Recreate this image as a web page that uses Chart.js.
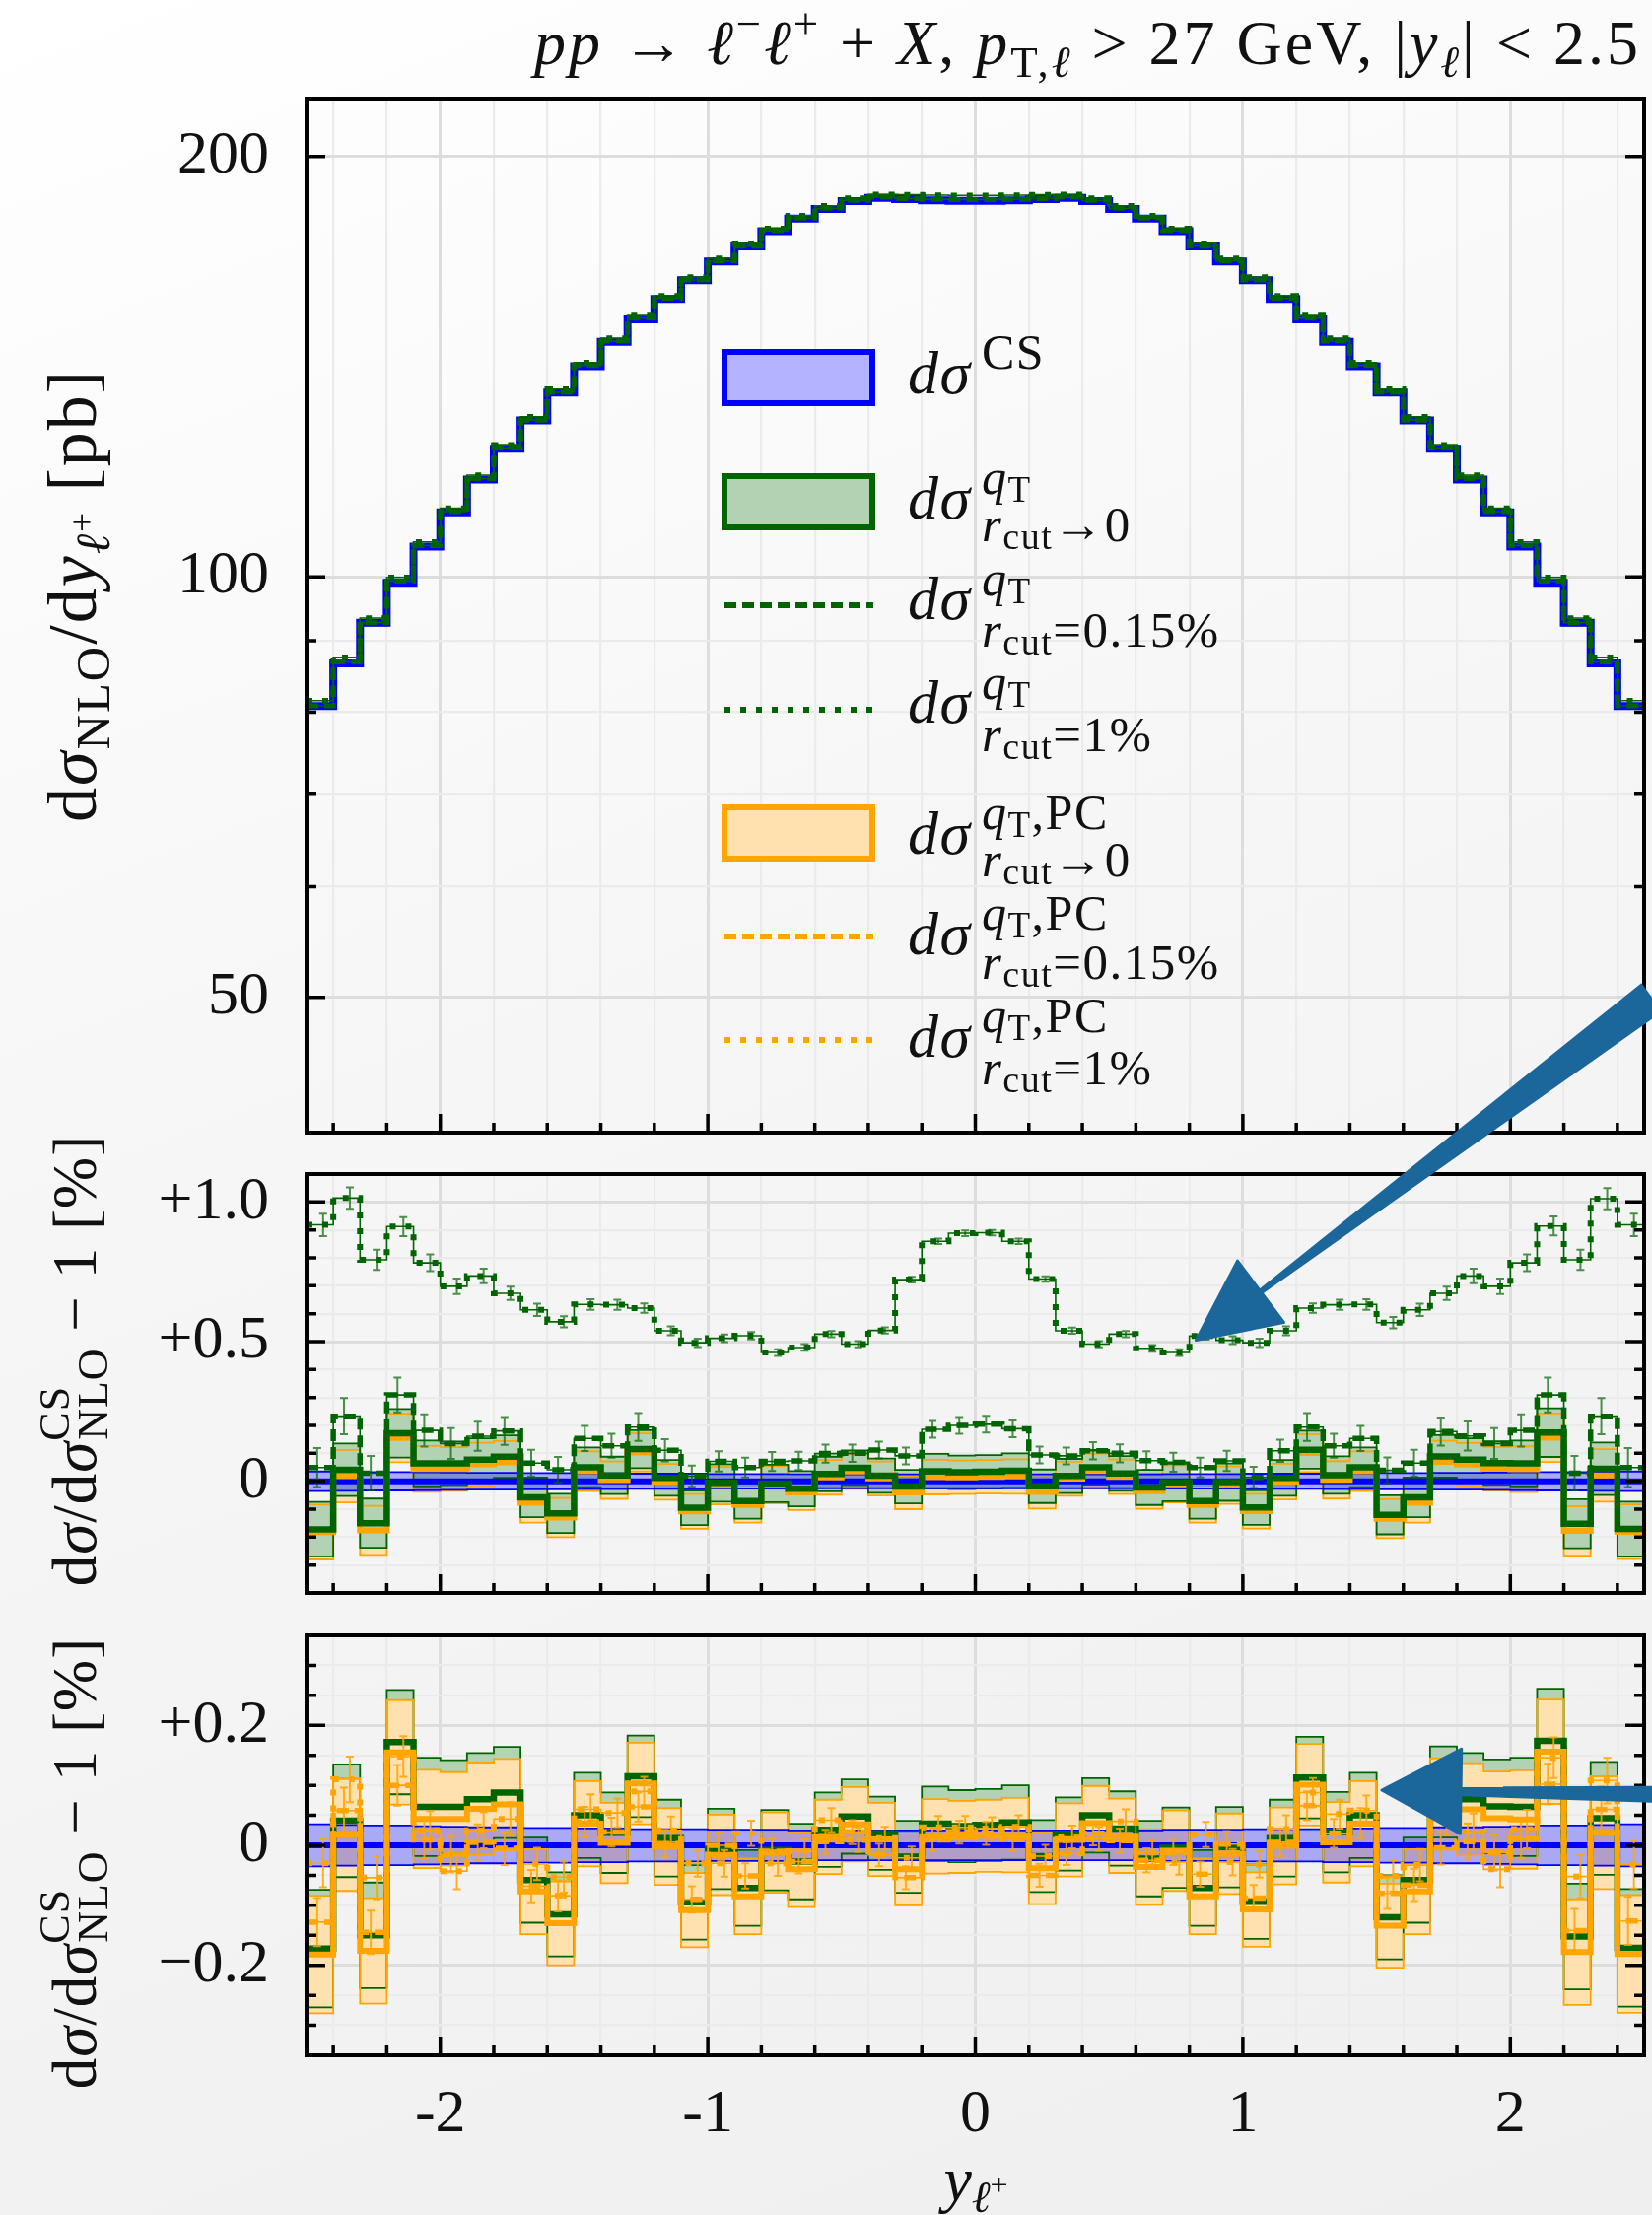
<!DOCTYPE html>
<html>
<head>
<meta charset="utf-8">
<title>Drell-Yan lepton rapidity at NLO</title>
<script src="https://cdn.jsdelivr.net/npm/chart.js@4.4.1/dist/chart.umd.min.js"></script>
<style>
  html, body { margin: 0; padding: 0; }
  body {
    width: 1676px; height: 2247px; position: relative; overflow: hidden;
    background: linear-gradient(160deg, #ffffff 0%, #f6f6f6 45%, #efefef 100%);
  }
  canvas.panel { position: absolute; left: 0; }
  #overlay { position: absolute; left: 0; top: 0; pointer-events: none; }
  #overlay text { font-family: 'Liberation Serif', 'DejaVu Serif', serif; fill: #111; white-space: pre; }
</style>
</head>
<body>
<canvas id="mainPanel" class="panel" width="1676" height="1160" style="top:0px"></canvas>
<canvas id="ratioPanel" class="panel" width="1676" height="470" style="top:1170px"></canvas>
<canvas id="pcPanel" class="panel" width="1676" height="607" style="top:1640px"></canvas>

<svg id="overlay" width="1676" height="2247" xmlns="http://www.w3.org/2000/svg">
  <g id="legendMarks"></g>
  <g id="arrows"></g>

  <!-- title -->
  <text x="1665" y="65" text-anchor="end" font-size="64" letter-spacing="3"><tspan font-style="italic">pp</tspan> → <tspan font-style="italic">ℓ</tspan><tspan font-size="45" dy="-26">−</tspan><tspan font-style="italic" dy="26">ℓ</tspan><tspan font-size="45" dy="-26">+</tspan><tspan dy="26"> + </tspan><tspan font-style="italic">X</tspan>, <tspan font-style="italic">p</tspan><tspan font-size="45" dy="13">T,</tspan><tspan font-size="45" font-style="italic">ℓ</tspan><tspan dy="-13"> &gt; 27 GeV, |</tspan><tspan font-style="italic">y</tspan><tspan font-size="45" font-style="italic" dy="13">ℓ</tspan><tspan dy="-13">| &lt; 2.5</tspan></text>

  <!-- y axis titles -->
  <text transform="translate(97,604) rotate(-90)" text-anchor="middle" font-size="70" letter-spacing="2">d<tspan font-style="italic">σ</tspan><tspan font-size="49" dy="14">NLO</tspan><tspan dy="-14">/d</tspan><tspan font-style="italic">y</tspan><tspan font-size="49" font-style="italic" dy="14">ℓ</tspan><tspan font-size="35" dy="-16">+</tspan><tspan dy="2"> [pb]</tspan></text>
  <text transform="translate(97,1380) rotate(-90)" text-anchor="middle" font-size="63" letter-spacing="1">d<tspan font-style="italic">σ</tspan>/d<tspan font-style="italic">σ</tspan><tspan font-size="44" dy="-27">CS</tspan><tspan font-size="44" dx="-55" dy="39">NLO</tspan><tspan dy="-12"> − 1 [%]</tspan></text>
  <text transform="translate(97,1890) rotate(-90)" text-anchor="middle" font-size="63" letter-spacing="1">d<tspan font-style="italic">σ</tspan>/d<tspan font-style="italic">σ</tspan><tspan font-size="44" dy="-27">CS</tspan><tspan font-size="44" dx="-55" dy="39">NLO</tspan><tspan dy="-12"> − 1 [%]</tspan></text>

  <!-- x axis title -->
  <text x="990" y="2232" text-anchor="middle" font-size="64"><tspan font-style="italic">y</tspan><tspan font-size="45" font-style="italic" dy="12">ℓ</tspan><tspan font-size="32" dy="-17">+</tspan></text>

  <!-- legend labels -->
  <text font-size="62" letter-spacing="1.5"><tspan x="921" y="399" font-style="italic">dσ</tspan><tspan x="996" y="374" font-size="50">CS</tspan></text>
  <text font-size="62" letter-spacing="1.5"><tspan x="921" y="526" font-style="italic">dσ</tspan><tspan x="996" y="501" font-size="50" font-style="italic">q</tspan><tspan y="509" font-size="37">T</tspan><tspan x="996" y="549" font-size="51" font-style="italic">r</tspan><tspan y="557" font-size="38">cut</tspan><tspan y="549" font-size="51">→0</tspan></text>
  <text font-size="62" letter-spacing="1.5"><tspan x="921" y="628" font-style="italic">dσ</tspan><tspan x="996" y="604" font-size="50" font-style="italic">q</tspan><tspan y="612" font-size="37">T</tspan><tspan x="996" y="656" font-size="51" font-style="italic">r</tspan><tspan y="664" font-size="38">cut</tspan><tspan y="656" font-size="51">=0.15%</tspan></text>
  <text font-size="62" letter-spacing="1.5"><tspan x="921" y="733" font-style="italic">dσ</tspan><tspan x="996" y="709" font-size="50" font-style="italic">q</tspan><tspan y="717" font-size="37">T</tspan><tspan x="996" y="762" font-size="51" font-style="italic">r</tspan><tspan y="770" font-size="38">cut</tspan><tspan y="762" font-size="51">=1%</tspan></text>
  <text font-size="62" letter-spacing="1.5"><tspan x="921" y="866" font-style="italic">dσ</tspan><tspan x="996" y="841" font-size="50" font-style="italic">q</tspan><tspan y="849" font-size="37">T</tspan><tspan y="841" font-size="50">,PC</tspan><tspan x="996" y="889" font-size="51" font-style="italic">r</tspan><tspan y="897" font-size="38">cut</tspan><tspan y="889" font-size="51">→0</tspan></text>
  <text font-size="62" letter-spacing="1.5"><tspan x="921" y="968" font-style="italic">dσ</tspan><tspan x="996" y="943" font-size="50" font-style="italic">q</tspan><tspan y="951" font-size="37">T</tspan><tspan y="943" font-size="50">,PC</tspan><tspan x="996" y="993" font-size="51" font-style="italic">r</tspan><tspan y="1001" font-size="38">cut</tspan><tspan y="993" font-size="51">=0.15%</tspan></text>
  <text font-size="62" letter-spacing="1.5"><tspan x="921" y="1072" font-style="italic">dσ</tspan><tspan x="996" y="1047" font-size="50" font-style="italic">q</tspan><tspan y="1055" font-size="37">T</tspan><tspan y="1047" font-size="50">,PC</tspan><tspan x="996" y="1100" font-size="51" font-style="italic">r</tspan><tspan y="1108" font-size="38">cut</tspan><tspan y="1100" font-size="51">=1%</tspan></text>
</svg>

<script>
// ---- binning and axis ticks --------------------------------------------
const binEdges = [-2.5, -2.4, -2.3, -2.2, -2.1, -2.0, -1.9, -1.8, -1.7, -1.6, -1.5, -1.4, -1.3, -1.2, -1.1,
  -1.0, -0.9, -0.8, -0.7, -0.6, -0.5, -0.4, -0.3, -0.2, -0.1, 0, 0.1, 0.2, 0.3, 0.4, 0.5, 0.6, 0.7, 0.8,
  0.9, 1.0, 1.1, 1.2, 1.3, 1.4, 1.5, 1.6, 1.7, 1.8, 1.9, 2.0, 2.1, 2.2, 2.3, 2.4, 2.5];

const xTickValues = [-2.4, -2.2, -2.0, -1.8, -1.6, -1.4, -1.2, -1.0, -0.8, -0.6, -0.4, -0.2, 0,
  0.2, 0.4, 0.6, 0.8, 1.0, 1.2, 1.4, 1.6, 1.8, 2.0, 2.2, 2.4];
const xLabelValues = [-2, -1, 0, 1, 2];
const xLabelText = ['-2', '-1', '0', '1', '2'];

const mainTickValues = [40, 50, 60, 70, 80, 90, 100, 200];
const mainLabelValues = [50, 100, 200];
const mainLabelText = ['50', '100', '200'];

const ratioTickValues = [-0.4, -0.3, -0.2, -0.1, 0, 0.1, 0.2, 0.3, 0.4, 0.5, 0.6, 0.7, 0.8, 0.9, 1.0, 1.1];
const ratioLabelValues = [0, 0.5, 1.0];
const ratioLabelText = ['0', '+0.5', '+1.0'];

const pcTickValues = [-0.35, -0.3, -0.25, -0.2, -0.15, -0.1, -0.05, 0, 0.05, 0.1, 0.15, 0.2, 0.25, 0.3, 0.35];
const pcLabelValues = [-0.2, 0, 0.2];
const pcLabelText = ['\u22120.2', '0', '+0.2'];

// ---- NLO cross section per bin (pb) -------------------------------------
const csNLO = [80.8, 86.7, 92.7, 99.0, 105.1, 111.2, 117.4, 123.5, 129.4, 135.5, 141.5, 147.3, 152.9,
  158.1, 163.1, 168.2, 172.4, 176.8, 180.5, 183.4, 185.8, 186.8, 186.4, 186.0, 185.9,
  185.9, 186.0, 186.4, 186.8, 185.8, 183.4, 180.5, 176.8, 172.4, 168.2, 163.1, 158.1, 152.9, 147.3,
  141.5, 135.5, 129.4, 123.5, 117.4, 111.2, 105.1, 99.0, 92.7, 86.7, 80.8];
// numerical uncertainty of the CS result, in %
const csErr = [0.035, 0.034, 0.033, 0.033, 0.032, 0.031, 0.030, 0.030, 0.029, 0.029, 0.028, 0.028, 0.027,
  0.027, 0.027, 0.026, 0.026, 0.026, 0.025, 0.025, 0.025, 0.025, 0.025, 0.025, 0.025,
  0.025, 0.025, 0.025, 0.025, 0.025, 0.025, 0.025, 0.026, 0.026, 0.026, 0.027, 0.027, 0.027, 0.028,
  0.028, 0.029, 0.029, 0.030, 0.030, 0.031, 0.032, 0.033, 0.033, 0.034, 0.035];

// ---- deviations from CS, in % ----------------------------------------------
const qtExtrap = [-0.172, 0.041, -0.150, 0.172, 0.064, 0.064, 0.077, 0.088, -0.058, -0.115, 0.050, 0.021, 0.115,
  0.012, -0.095, -0.006, -0.071, -0.008, -0.027, 0.026, 0.048, 0.020, -0.019, 0.036, 0.032,
  0.034, 0.038, -0.018, 0.019, 0.050, 0.028, -0.022, -0.004, -0.071, -0.003, -0.094, 0.012, 0.113, 0.022,
  0.050, -0.120, -0.058, 0.089, 0.077, 0.065, 0.064, 0.174, -0.152, 0.045, -0.171];
const pcExtrap = [-0.182, 0.018, -0.176, 0.155, 0.044, 0.044, 0.061, 0.068, -0.077, -0.130, 0.036, 0.004, 0.103,
  -0.002, -0.108, -0.016, -0.085, -0.012, -0.040, 0.014, 0.035, 0.010, -0.040, 0.015, 0.014,
  0.016, 0.017, -0.038, 0.009, 0.037, 0.016, -0.036, -0.009, -0.085, -0.014, -0.107, -0.001, 0.101, 0.005,
  0.036, -0.134, -0.077, 0.069, 0.060, 0.045, 0.043, 0.156, -0.178, 0.021, -0.181];
// uncertainty of the r_cut -> 0 extrapolation, in %
const extrapErr = [0.098, 0.094, 0.088, 0.087, 0.082, 0.078, 0.077, 0.076, 0.071, 0.070, 0.071, 0.067, 0.068,
  0.064, 0.062, 0.067, 0.063, 0.067, 0.063, 0.062, 0.062, 0.061, 0.060, 0.062, 0.060,
  0.060, 0.062, 0.060, 0.061, 0.062, 0.062, 0.063, 0.067, 0.063, 0.067, 0.062, 0.064, 0.068, 0.067,
  0.071, 0.070, 0.071, 0.076, 0.077, 0.078, 0.082, 0.087, 0.088, 0.094, 0.098];

const qtCut015 = [0.049, 0.233, 0.029, 0.309, 0.182, 0.135, 0.161, 0.180, 0.065, 0.041, 0.153, 0.127, 0.194,
  0.111, 0.018, 0.071, 0.049, 0.071, 0.073, 0.099, 0.100, 0.112, 0.091, 0.186, 0.200,
  0.204, 0.188, 0.094, 0.091, 0.109, 0.100, 0.074, 0.068, 0.049, 0.073, 0.014, 0.109, 0.194, 0.127,
  0.153, 0.039, 0.065, 0.178, 0.162, 0.135, 0.182, 0.309, 0.029, 0.233, 0.049];
const qtCut015Err = [0.070, 0.065, 0.062, 0.062, 0.058, 0.055, 0.052, 0.050, 0.048, 0.046, 0.045, 0.043, 0.050,
  0.040, 0.038, 0.036, 0.035, 0.034, 0.033, 0.032, 0.031, 0.030, 0.030, 0.030, 0.030,
  0.030, 0.030, 0.030, 0.030, 0.031, 0.032, 0.033, 0.034, 0.035, 0.036, 0.038, 0.040, 0.050, 0.043,
  0.045, 0.046, 0.048, 0.050, 0.052, 0.055, 0.058, 0.062, 0.062, 0.065, 0.070];
const qtCut1 = [0.918, 1.014, 0.793, 0.912, 0.782, 0.698, 0.735, 0.673, 0.614, 0.571, 0.633, 0.632, 0.620,
  0.539, 0.496, 0.512, 0.521, 0.461, 0.479, 0.527, 0.491, 0.540, 0.722, 0.859, 0.888,
  0.890, 0.859, 0.724, 0.539, 0.491, 0.527, 0.476, 0.461, 0.520, 0.505, 0.496, 0.539, 0.620, 0.632,
  0.633, 0.568, 0.614, 0.673, 0.735, 0.698, 0.782, 0.914, 0.793, 1.012, 0.918];
const qtCut1Err = [0.040, 0.038, 0.036, 0.034, 0.030, 0.028, 0.026, 0.024, 0.022, 0.020, 0.019, 0.018, 0.017,
  0.016, 0.015, 0.014, 0.013, 0.012, 0.012, 0.011, 0.011, 0.011, 0.010, 0.010, 0.010,
  0.010, 0.010, 0.010, 0.011, 0.011, 0.011, 0.012, 0.012, 0.013, 0.014, 0.015, 0.016, 0.017, 0.018,
  0.019, 0.020, 0.022, 0.024, 0.026, 0.028, 0.030, 0.034, 0.036, 0.038, 0.040];

const pcCut015 = [-0.128, 0.058, -0.145, 0.100, 0.009, -0.015, 0.005, -0.005, -0.068, -0.084, 0.039, 0.022, 0.064,
  0.003, -0.090, 0.000, -0.051, -0.010, -0.027, 0.006, 0.022, -0.016, -0.054, 0.009, 0.022,
  0.020, 0.010, -0.050, -0.014, 0.020, 0.008, -0.025, -0.012, -0.048, 0.002, -0.088, 0.005, 0.066, 0.020,
  0.037, -0.080, -0.066, -0.004, 0.006, -0.012, 0.011, 0.102, -0.142, 0.060, -0.126];
const pcCut1 = [-0.030, 0.110, -0.054, 0.148, 0.025, -0.043, 0.025, 0.044, -0.031, -0.053, 0.060, 0.054, 0.090,
  0.025, -0.030, -0.030, 0.020, -0.030, -0.010, 0.042, 0.009, 0.012, -0.021, 0.030, 0.030,
  0.028, 0.031, -0.018, 0.014, 0.011, 0.040, -0.012, -0.028, 0.018, -0.028, -0.032, 0.027, 0.088, 0.052,
  0.058, -0.051, -0.033, 0.046, 0.023, -0.040, 0.027, 0.146, -0.052, 0.108, -0.032];
const pcCutErr = [0.040, 0.038, 0.036, 0.034, 0.032, 0.030, 0.030, 0.028, 0.027, 0.026, 0.025, 0.024, 0.024,
  0.023, 0.022, 0.022, 0.021, 0.021, 0.020, 0.020, 0.020, 0.019, 0.019, 0.019, 0.019,
  0.019, 0.019, 0.019, 0.019, 0.020, 0.020, 0.020, 0.021, 0.021, 0.022, 0.022, 0.023, 0.024, 0.024,
  0.025, 0.026, 0.027, 0.028, 0.030, 0.030, 0.032, 0.034, 0.036, 0.038, 0.040];

// ---- styling -------------------------------------------------------------
const FONT = "'Liberation Serif', 'DejaVu Serif', serif";
const C = {
  ink: '#111111',
  blue: '#0000ff', blueFill: 'rgba(0, 0, 255, 0.3)', blueBox: '#b3b3ff',
  green: '#006400', greenFill: '#b3d1b3', greenErr: 'rgba(0, 100, 0, 0.7)',
  orange: '#ffa500', orangeFill: '#ffe1b0', orangeErr: 'rgba(255, 165, 0, 0.85)',
  arrow: '#1b679b',
  gridMajor: '#dddddd', gridMinor: '#ebebeb'
};
const DASH = [12, 6];
const DOT = [6, 10];

const isIn = (v, list) => v != null && list.some(l => Math.abs(l - v) < 1e-9);
const binCenter = i => (binEdges[i] + binEdges[i + 1]) / 2;
const addArr = (a, b, s) => a.map((v, i) => v + s * b[i]);
const absolute = r => csNLO.map((v, i) => v * (1 + r[i] / 100));
const csSelf = csNLO.map(v => (v / v - 1) * 100);

// histogram outline: one point on each left edge, plus the closing right edge
function steps(vals) {
  const pts = vals.map((v, i) => ({ x: binEdges[i], y: v }));
  pts.push({ x: binEdges[vals.length], y: vals[vals.length - 1] });
  return pts;
}

function stepLine(vals, color, width, order, dash) {
  return {
    data: steps(vals), borderColor: color, borderWidth: width, borderDash: dash || [],
    borderCapStyle: 'butt', borderJoinStyle: 'miter', stepped: true,
    pointRadius: 0, fill: false, order: order
  };
}

// dashed/dotted histograms keep a hairline underneath so the outline stays readable
function patterned(vals, color, width, order, dash) {
  return [stepLine(vals, color, 1.6, order + 0.5), stepLine(vals, color, width, order, dash)];
}

// two datasets; the first one fills down to the second
function bandFill(lo, hi, color, order) {
  return [
    { data: steps(hi), borderColor: 'rgba(0,0,0,0)', borderWidth: 1, stepped: true, pointRadius: 0,
      fill: '+1', backgroundColor: color, order: order },
    { data: steps(lo), borderColor: 'rgba(0,0,0,0)', borderWidth: 1, stepped: true, pointRadius: 0,
      fill: false, order: order }
  ];
}

function bandEdges(lo, hi, color, order) {
  return [stepLine(hi, color, 1.8, order), stepLine(lo, color, 1.8, order)];
}

function withErrors(list, values, errors, shift, color) {
  list[list.length - 1].errorBars = { values: values, errors: errors, shift: shift, color: color };
  return list;
}

// ---- plugins ---------------------------------------------------------------
const errorBars = {
  id: 'errorBars',
  afterDatasetsDraw(chart) {
    const { ctx, chartArea: a, scales: { x, y } } = chart;
    ctx.save();
    ctx.beginPath();
    ctx.rect(a.left, a.top, a.right - a.left, a.bottom - a.top);
    ctx.clip();
    ctx.setLineDash([]);
    ctx.lineWidth = 2;
    chart.data.datasets.forEach(ds => {
      const eb = ds.errorBars;
      if (!eb) return;
      ctx.strokeStyle = eb.color;
      ctx.beginPath();
      eb.values.forEach((v, i) => {
        const px = x.getPixelForValue(binCenter(i) + eb.shift);
        const y0 = y.getPixelForValue(v - eb.errors[i]);
        const y1 = y.getPixelForValue(v + eb.errors[i]);
        ctx.moveTo(px, y0); ctx.lineTo(px, y1);
        ctx.moveTo(px - 4, y0); ctx.lineTo(px + 4, y0);
        ctx.moveTo(px - 4, y1); ctx.lineTo(px + 4, y1);
      });
      ctx.stroke();
    });
    ctx.restore();
  }
};

// frame plus inward tick marks (left/right for y, bottom for x)
const frameTicks = {
  id: 'frameTicks',
  afterDraw(chart, args, opts) {
    const { ctx, chartArea: a, scales: { x, y } } = chart;
    ctx.save();
    ctx.setLineDash([]);
    ctx.strokeStyle = '#000';
    ctx.lineWidth = 3.5;
    ctx.beginPath();
    y.ticks.forEach(t => {
      const py = y.getPixelForValue(t.value);
      if (py <= a.top + 1 || py >= a.bottom - 1) return;
      const len = isIn(t.value, opts.yMajor) ? 19 : 10;
      ctx.moveTo(a.left, py); ctx.lineTo(a.left + len, py);
      ctx.moveTo(a.right, py); ctx.lineTo(a.right - len, py);
    });
    x.ticks.forEach(t => {
      const px = x.getPixelForValue(t.value);
      const len = isIn(t.value, xLabelValues) ? 19 : 10;
      ctx.moveTo(px, a.bottom); ctx.lineTo(px, a.bottom - len);
    });
    ctx.stroke();
    ctx.lineWidth = 4;
    ctx.strokeRect(a.left, a.top, a.right - a.left, a.bottom - a.top);
    ctx.restore();
  }
};

// ---- scales ------------------------------------------------------------------
function xScale(showLabels) {
  return {
    type: 'linear', min: -2.5, max: 2.5,
    afterBuildTicks: s => { s.ticks = xTickValues.map(v => ({ value: v })); },
    afterFit: s => { s.height = showLabels ? 150 : 0; s.paddingLeft = 0; s.paddingRight = 0; },
    border: { display: false },
    grid: {
      drawTicks: false,
      color: c => isIn(c.tick && c.tick.value, xLabelValues) ? C.gridMajor : C.gridMinor,
      lineWidth: c => isIn(c.tick && c.tick.value, xLabelValues) ? 3 : 2.2
    },
    ticks: {
      display: showLabels, padding: 24, color: C.ink, maxRotation: 0, autoSkip: false,
      font: { family: FONT, size: 62 },
      callback: v => { const k = xLabelValues.findIndex(l => Math.abs(l - v) < 1e-9); return k < 0 ? '' : xLabelText[k]; }
    }
  };
}

function yScale(type, min, max, tickVals, labelVals, labelText) {
  return {
    type: type, min: min, max: max,
    afterBuildTicks: s => { s.ticks = tickVals.map(v => ({ value: v })); },
    afterFit: s => { s.width = 311; s.paddingTop = 0; s.paddingBottom = 0; },
    border: { display: false },
    grid: {
      drawTicks: false,
      color: c => isIn(c.tick && c.tick.value, labelVals) ? C.gridMajor : C.gridMinor,
      lineWidth: c => isIn(c.tick && c.tick.value, labelVals) ? 3 : 2.2
    },
    ticks: {
      padding: 38, color: C.ink, autoSkip: false,
      font: { family: FONT, size: 62 },
      callback: v => { const k = labelVals.findIndex(l => Math.abs(l - v) < 1e-9); return k < 0 ? '' : labelText[k]; }
    }
  };
}

function panel(id, padding, showX, y, yMajor, datasets) {
  return new Chart(document.getElementById(id), {
    type: 'line',
    data: { datasets: datasets },
    options: {
      responsive: false, animation: false, devicePixelRatio: 1,
      layout: { padding: padding },
      plugins: { legend: { display: false }, tooltip: { enabled: false }, frameTicks: { yMajor: yMajor } },
      scales: { x: xScale(showX), y: y }
    },
    plugins: [frameTicks, errorBars]
  });
}

// ---- main panel: absolute distributions ------------------------------------------
const mainChart = panel('mainPanel', { top: 100, right: 8, bottom: 11, left: 0 }, false,
  yScale('logarithmic', 40, 220, mainTickValues, mainLabelValues, mainLabelText), mainLabelValues, [
    ...patterned(absolute(pcCut1), C.orange, 5.5, 8, DOT),
    ...patterned(absolute(pcCut015), C.orange, 5, 7, DASH),
    stepLine(absolute(pcExtrap), C.orange, 5, 6),
    stepLine(absolute(qtExtrap), C.green, 5, 5),
    stepLine(csNLO, C.blue, 8, 3),
    ...patterned(absolute(qtCut015), C.green, 5, 2, DASH),
    ...patterned(absolute(qtCut1), C.green, 5.5, 1, DOT)
  ]);

// ---- middle panel: q_T subtraction vs CS -----------------------------------------
const ratioChart = panel('ratioPanel', { top: 21, right: 8, bottom: 24, left: 0 }, false,
  yScale('linear', -0.4, 1.1, ratioTickValues, ratioLabelValues, ratioLabelText), ratioLabelValues, [
    ...bandFill(addArr(pcExtrap, extrapErr, -1), addArr(pcExtrap, extrapErr, 1), C.orangeFill, 20),
    ...bandFill(addArr(qtExtrap, extrapErr, -1), addArr(qtExtrap, extrapErr, 1), C.greenFill, 19),
    ...bandFill(addArr(csSelf, csErr, -1), addArr(csSelf, csErr, 1), C.blueFill, 18),
    ...bandEdges(addArr(pcExtrap, extrapErr, -1), addArr(pcExtrap, extrapErr, 1), C.orange, 17),
    ...bandEdges(addArr(qtExtrap, extrapErr, -1), addArr(qtExtrap, extrapErr, 1), C.green, 16),
    ...bandEdges(addArr(csSelf, csErr, -1), addArr(csSelf, csErr, 1), C.blue, 15),
    stepLine(csSelf, C.blue, 6, 14),
    stepLine(pcExtrap, C.orange, 6, 13),
    stepLine(qtExtrap, C.green, 6.5, 12),
    ...withErrors(patterned(qtCut015, C.green, 5.5, 10, DASH), qtCut015, qtCut015Err, -0.01, C.greenErr),
    ...withErrors(patterned(qtCut1, C.green, 6, 8, DOT), qtCut1, qtCut1Err, 0.012, C.greenErr)
  ]);

// ---- bottom panel: with power corrections ------------------------------------------
const pcChart = panel('pcPanel', { top: 19, right: 8, bottom: 12, left: 0 }, true,
  yScale('linear', -0.35, 0.35, pcTickValues, pcLabelValues, pcLabelText), pcLabelValues, [
    ...bandFill(addArr(qtExtrap, extrapErr, -1), addArr(qtExtrap, extrapErr, 1), C.greenFill, 20),
    ...bandFill(addArr(pcExtrap, extrapErr, -1), addArr(pcExtrap, extrapErr, 1), C.orangeFill, 19),
    ...bandFill(addArr(csSelf, csErr, -1), addArr(csSelf, csErr, 1), C.blueFill, 18),
    ...bandEdges(addArr(qtExtrap, extrapErr, -1), addArr(qtExtrap, extrapErr, 1), C.green, 17),
    ...bandEdges(addArr(pcExtrap, extrapErr, -1), addArr(pcExtrap, extrapErr, 1), C.orange, 16),
    ...bandEdges(addArr(csSelf, csErr, -1), addArr(csSelf, csErr, 1), C.blue, 15),
    stepLine(csSelf, C.blue, 6, 14),
    stepLine(qtExtrap, C.green, 6.5, 13),
    stepLine(pcExtrap, C.orange, 6, 12),
    ...withErrors(patterned(pcCut015, C.orange, 5.5, 10, DASH), pcCut015, pcCutErr, -0.01, C.orangeErr),
    ...withErrors(patterned(pcCut1, C.orange, 6, 8, DOT), pcCut1, pcCutErr, 0.012, C.orangeErr)
  ]);

// ---- legend swatches ---------------------------------------------------------------
const SVGNS = 'http://www.w3.org/2000/svg';
function svgEl(parent, tag, attrs) {
  const el = document.createElementNS(SVGNS, tag);
  Object.keys(attrs).forEach(k => el.setAttribute(k, attrs[k]));
  parent.appendChild(el);
  return el;
}
const legendRows = [
  { y: 383, box: true, stroke: C.blue, fill: C.blueBox },
  { y: 509, box: true, stroke: C.green, fill: C.greenFill },
  { y: 614, stroke: C.green, dash: DASH },
  { y: 720, stroke: C.green, dash: DOT },
  { y: 845, box: true, stroke: C.orange, fill: C.orangeFill },
  { y: 950, stroke: C.orange, dash: DASH },
  { y: 1055, stroke: C.orange, dash: DOT }
];
const legendG = document.getElementById('legendMarks');
legendRows.forEach(r => {
  if (r.box) {
    svgEl(legendG, 'rect', { x: 735, y: r.y - 26, width: 150, height: 52, fill: r.fill, stroke: r.stroke, 'stroke-width': 6 });
  } else {
    svgEl(legendG, 'line', { x1: 735, x2: 886, y1: r.y, y2: r.y, stroke: r.stroke, 'stroke-width': 6, 'stroke-dasharray': r.dash.join(' ') });
  }
});

// ---- annotation arrows, anchored in data coordinates of their panel ------------------
const arrowSpecs = [
  { chart: ratioChart, top: 1170, tip: [0.825, 0.505], tail: [2.53, 1.733], head: 82, headW: 78, tailW: 36, neckW: 6 },
  { chart: pcChart, top: 1640, tip: [1.52, 0.092], tail: [2.53, 0.085], head: 80, headW: 86, tailW: 17, neckW: 10 }
];
const arrowG = document.getElementById('arrows');
arrowSpecs.forEach(a => {
  const sx = v => a.chart.scales.x.getPixelForValue(v);
  const sy = v => a.chart.scales.y.getPixelForValue(v) + a.top;
  const tip = [sx(a.tip[0]), sy(a.tip[1])];
  const tail = [sx(a.tail[0]), sy(a.tail[1])];
  const len = Math.hypot(tip[0] - tail[0], tip[1] - tail[1]);
  const u = [(tip[0] - tail[0]) / len, (tip[1] - tail[1]) / len];
  const n = [-u[1], u[0]];
  const base = [tip[0] - u[0] * a.head, tip[1] - u[1] * a.head];
  const pt = (p, k) => (p[0] + n[0] * k).toFixed(1) + ',' + (p[1] + n[1] * k).toFixed(1);
  svgEl(arrowG, 'polygon', {
    points: [pt(tail, a.tailW / 2), pt(base, a.neckW / 2), pt(base, -a.neckW / 2), pt(tail, -a.tailW / 2)].join(' '),
    fill: C.arrow
  });
  svgEl(arrowG, 'polygon', {
    points: [tip[0].toFixed(1) + ',' + tip[1].toFixed(1), pt(base, a.headW / 2), pt(base, -a.headW / 2)].join(' '),
    fill: C.arrow, stroke: C.arrow, 'stroke-width': 3, 'stroke-linejoin': 'round'
  });
});
</script>
</body>
</html>
